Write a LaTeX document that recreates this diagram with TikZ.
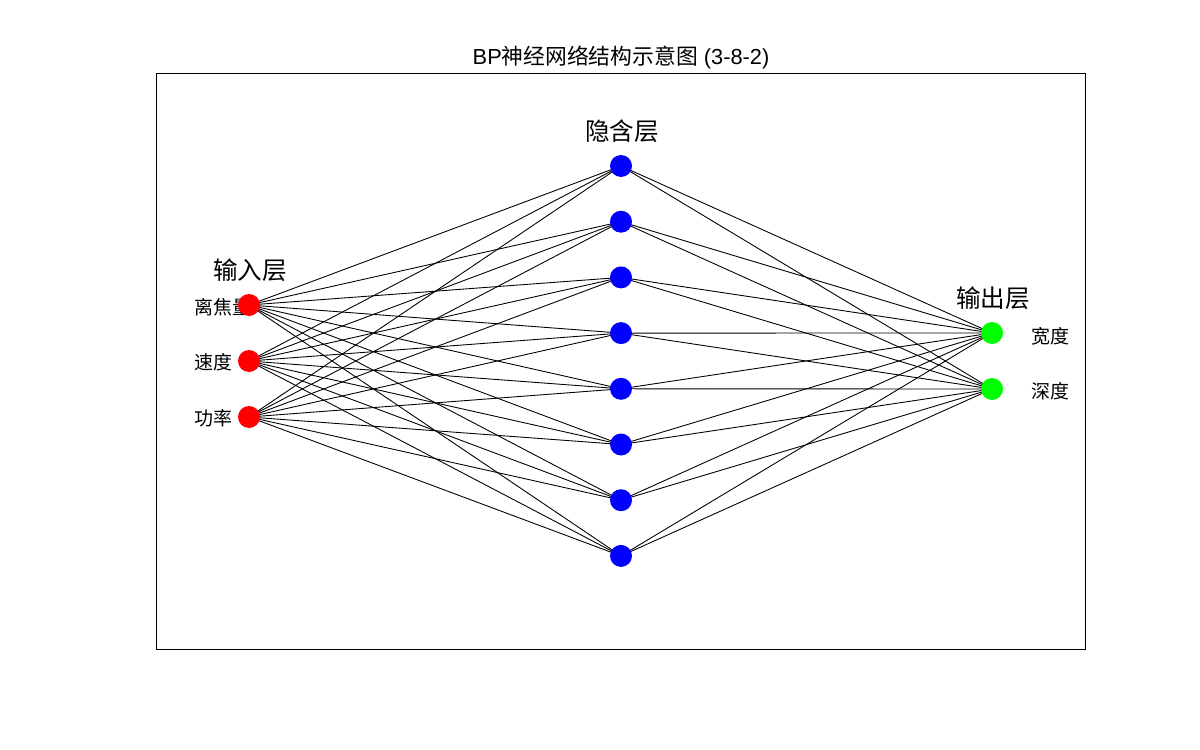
\documentclass[tikz,border=0pt]{standalone}
\usepackage{fontspec}
\setsansfont{Liberation Sans}
\newfontfamily\cjk{Noto Sans CJK SC}
\usetikzlibrary{backgrounds}
\tikzset{neuron/.style={circle, inner sep=0pt, minimum size=0.44cm},
innode/.style={neuron, fill=red},
hidnode/.style={neuron, fill=blue},
outnode/.style={neuron, fill=green},
layerlabel/.style={font=\cjk\fontsize{14}{16}\selectfont},
namelabel/.style={font=\cjk\fontsize{10.8}{12}\selectfont, inner sep=0pt},
link/.style={black, line width=0.5pt}}

\begin{document}
\begin{tikzpicture}[x=0.02cm, y=-0.02cm]
\useasboundingbox (0,0) rectangle (1200,750);
\draw[line width=0.5pt] (156,73) rectangle (1085,649);
\node (title) at (621,57) {\sffamily\fontsize{12.4}{14}\selectfont BP{\cjk 神经网络结构示意图} (3-8-2)};

% input layer
\foreach \i/\y in {1/305,2/361,3/417}
\node[innode] (i\i) at (249,\y) {};
% hidden layer
\foreach \j in {1,...,8}
\node[hidnode] (h\j) at (621,{166+55.7*(\j-1)}) {};
% output layer
\foreach \k/\y in {1/333,2/389}
\node[outnode] (o\k) at (992,\y) {};

\begin{scope}[on background layer]
\node[namelabel, anchor=west] (n1) at (194,307) {离焦量};
\node[namelabel, anchor=west] (n2) at (194,362) {速度};
\node[namelabel, anchor=west] (n3) at (194,418) {功率};
\foreach \i in {1,2,3}
\foreach \j in {1,...,8}
\draw[link] (i\i.center) -- (h\j.center);
\foreach \j in {1,...,8}
\foreach \k in {1,2}
\draw[link] (h\j.center) -- (o\k.center);
\end{scope}

\node[layerlabel] (inlabel) at (250,270) {输入层};
\node[layerlabel] (hidlabel) at (622,131) {隐含层};
\node[layerlabel] (outlabel) at (993,298) {输出层};

\node[namelabel, anchor=west] (m1) at (1031,336) {宽度};
\node[namelabel, anchor=west] (m2) at (1031,391) {深度};
\end{tikzpicture}
\end{document}
